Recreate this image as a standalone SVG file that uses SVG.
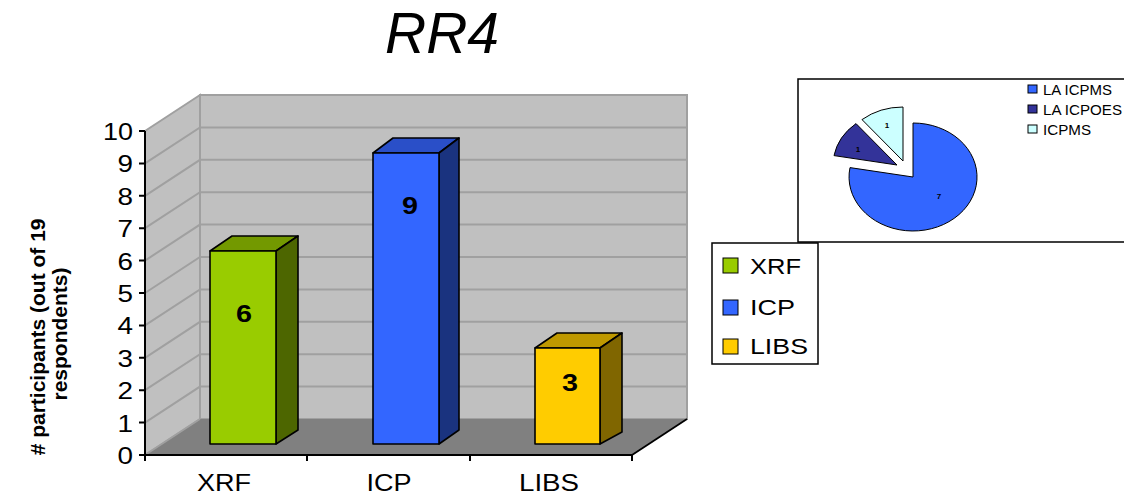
<svg xmlns="http://www.w3.org/2000/svg" width="1124" height="495" viewBox="0 0 1124 495">
<style>
text{font-family:"Liberation Sans",Arial,sans-serif;fill:#000}
.tick{font-size:23px;text-anchor:end}
.cat{font-size:24px;text-anchor:middle}
.val{font-size:23px;font-weight:bold;text-anchor:middle}
.leg{font-size:21.5px}
.pleg{font-size:14px}
.plab{font-size:8px;font-weight:bold;text-anchor:middle}
.grid{stroke:#a0a0a0;stroke-width:2;fill:none}
.bar{stroke:#000;stroke-width:1.6;stroke-linejoin:round}
.ax{stroke:#000;stroke-width:2;fill:none}
.box{fill:#fff;stroke:#000;stroke-width:1.5}
.sl{stroke:#000;stroke-width:1}
</style>
<rect width="1124" height="495" fill="#fff"/>
<text x="442" y="53" font-size="57" font-style="italic" text-anchor="middle">RR4</text>
<g id="plot-area">
<polygon points="145,131 200,95 200,419 145,455" fill="#c0c0c0" stroke="#a0a0a0" stroke-width="2"/>
<rect x="200" y="95" width="487" height="324" fill="#c0c0c0" stroke="#a0a0a0" stroke-width="2"/>
<g class="grid">
<path d="M145,422.6L200,386.6H687M145,390.2L200,354.2H687M145,357.8L200,321.8H687M145,325.4L200,289.4H687M145,293L200,257H687M145,260.6L200,224.6H687M145,228.2L200,192.2H687M145,195.8L200,159.8H687M145,163.4L200,127.4H687"/>
</g>
<polygon points="145,455 200,419 687,419 632,455" fill="#808080"/>
<path d="M200,419L145,455" stroke="#a0a0a0" stroke-width="1.5"/>
<path d="M632,455L687,419" stroke="#000" stroke-width="1.8"/>
</g>
<g id="bar-xrf">
<polygon class="bar" points="210,251 232,236 298,236 276,251" fill="#739900"/>
<polygon class="bar" points="276,251 298,236 298,430 276,444" fill="#4d6600"/>
<rect class="bar" x="210" y="251" width="66" height="193" fill="#99cc00"/>
<text class="val" x="244" y="322" textLength="16" lengthAdjust="spacingAndGlyphs">6</text>
</g>
<g id="bar-icp">
<polygon class="bar" points="373,153 393,138 459,138 439,153" fill="#2a4fc8"/>
<polygon class="bar" points="439,153 459,138 459,430 439,444" fill="#1a337f"/>
<rect class="bar" x="373" y="153" width="66" height="291" fill="#3366ff"/>
<text class="val" x="410" y="214" textLength="16" lengthAdjust="spacingAndGlyphs">9</text>
</g>
<g id="bar-libs">
<polygon class="bar" points="535,348 557,333 622,333 600,348" fill="#bf9900"/>
<polygon class="bar" points="600,348 622,333 622,432 600,444" fill="#806600"/>
<rect class="bar" x="535" y="348" width="65" height="96" fill="#ffcc00"/>
<text class="val" x="570" y="391" textLength="16" lengthAdjust="spacingAndGlyphs">3</text>
</g>
<g id="axes">
<path class="ax" d="M145,131V455H632"/>
<path class="ax" d="M139,131H145M139,163.4H145M139,195.8H145M139,228.2H145M139,260.6H145M139,293H145M139,325.4H145M139,357.8H145M139,390.2H145M139,422.6H145M139,455H145M145,455V461M307,455V461M470,455V461M632,455V461"/>
<text class="tick" x="133" y="140" textLength="30" lengthAdjust="spacingAndGlyphs">10</text>
<text class="tick" x="133" y="172.4" textLength="15.5" lengthAdjust="spacingAndGlyphs">9</text>
<text class="tick" x="133" y="204.8" textLength="15.5" lengthAdjust="spacingAndGlyphs">8</text>
<text class="tick" x="133" y="237.2" textLength="15.5" lengthAdjust="spacingAndGlyphs">7</text>
<text class="tick" x="133" y="269.6" textLength="15.5" lengthAdjust="spacingAndGlyphs">6</text>
<text class="tick" x="133" y="302" textLength="15.5" lengthAdjust="spacingAndGlyphs">5</text>
<text class="tick" x="133" y="334.4" textLength="15.5" lengthAdjust="spacingAndGlyphs">4</text>
<text class="tick" x="133" y="366.8" textLength="15.5" lengthAdjust="spacingAndGlyphs">3</text>
<text class="tick" x="133" y="399.2" textLength="15.5" lengthAdjust="spacingAndGlyphs">2</text>
<text class="tick" x="133" y="431.6" textLength="15.5" lengthAdjust="spacingAndGlyphs">1</text>
<text class="tick" x="133" y="464" textLength="15.5" lengthAdjust="spacingAndGlyphs">0</text>
<text class="cat" x="224" y="491" textLength="54" lengthAdjust="spacingAndGlyphs">XRF</text>
<text class="cat" x="389" y="491" textLength="45" lengthAdjust="spacingAndGlyphs">ICP</text>
<text class="cat" x="549" y="491" textLength="60" lengthAdjust="spacingAndGlyphs">LIBS</text>
<text font-size="21" font-weight="bold" text-anchor="middle" transform="translate(45,334) rotate(-90)">
<tspan x="0" y="0"># participants (out of 19</tspan>
<tspan x="0" y="22">respondents)</tspan>
</text>
</g>
<g id="pie-chart">
<path class="box" d="M1125,79H798V242H1125"/>
<path class="sl" d="M913,177L913,123A64,54 0 1,1 850,167.6Z" fill="#3366ff"/>
<path class="sl" d="M897,165L834,155.6A64,54 0 0,1 856,123.6Z" fill="#333399"/>
<path class="sl" d="M903,161L862,119.6A64,54 0 0,1 903,107Z" fill="#ccffff"/>
<text class="plab" x="939" y="199">7</text>
<text class="plab" x="858" y="152">1</text>
<text class="plab" x="887" y="128">1</text>
<rect class="sl" x="1028" y="85" width="9" height="8" fill="#3366ff"/>
<rect class="sl" x="1028" y="105" width="9" height="8" fill="#333399"/>
<rect class="sl" x="1028" y="125" width="9" height="8" fill="#ccffff"/>
<text class="pleg" x="1043" y="94.5" textLength="69" lengthAdjust="spacingAndGlyphs">LA ICPMS</text>
<text class="pleg" x="1043" y="114.5" textLength="79" lengthAdjust="spacingAndGlyphs">LA ICPOES</text>
<text class="pleg" x="1043" y="134.5" textLength="48" lengthAdjust="spacingAndGlyphs">ICPMS</text>
</g>
<g id="legend">
<rect class="box" x="712" y="243" width="106" height="121"/>
<rect class="sl" x="723" y="258" width="15" height="15" fill="#99cc00" stroke-width="1.5"/>
<rect class="sl" x="723" y="300" width="15" height="15" fill="#3366ff" stroke-width="1.5"/>
<rect class="sl" x="723" y="339" width="15" height="15" fill="#ffcc00" stroke-width="1.5"/>
<text class="leg" x="750" y="274" textLength="51" lengthAdjust="spacingAndGlyphs">XRF</text>
<text class="leg" x="750" y="315" textLength="45" lengthAdjust="spacingAndGlyphs">ICP</text>
<text class="leg" x="750" y="354" textLength="58" lengthAdjust="spacingAndGlyphs">LIBS</text>
</g>
</svg>
